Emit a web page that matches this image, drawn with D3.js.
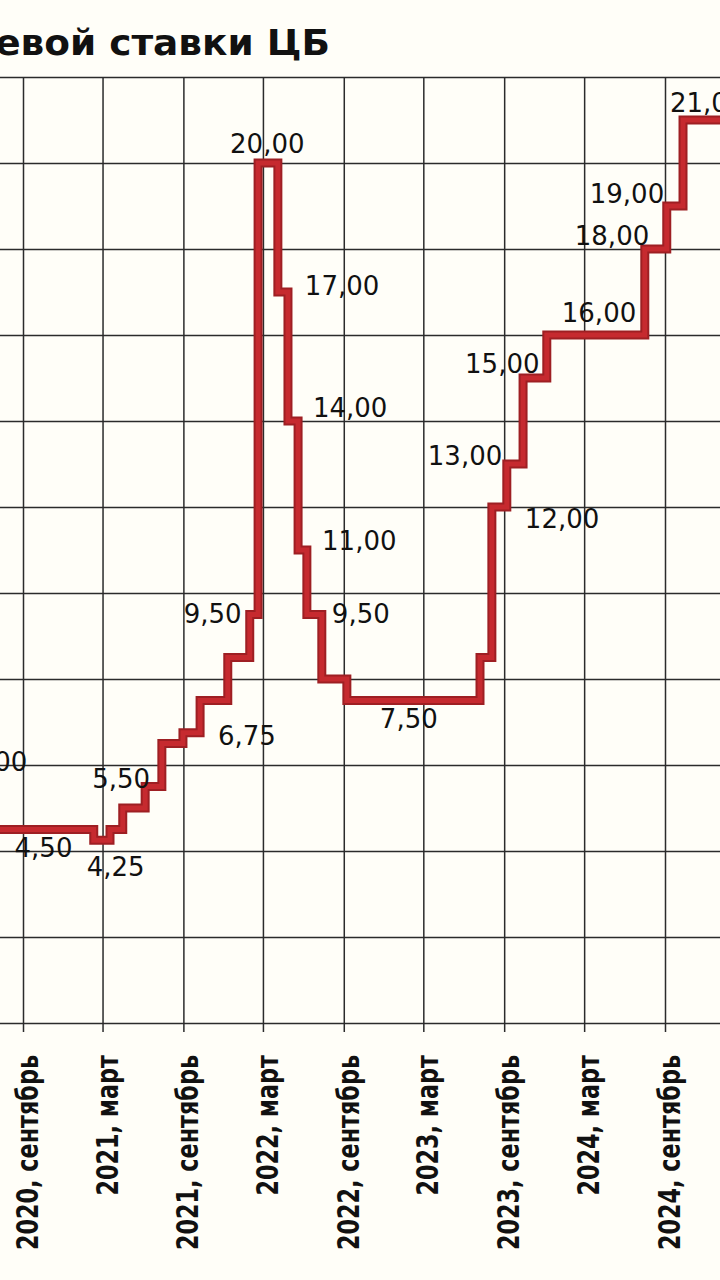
<!DOCTYPE html>
<html>
<head>
<meta charset="utf-8">
<script src="https://cdn.jsdelivr.net/npm/d3@7"></script>
<style>
html, body { margin: 0; padding: 0; background: #fffef8; }
svg { display: block; }
</style>
</head>
<body>
<div id="chart"></div>
<script>
// key rate steps: start date of each level + level
const rateDates = ["2020-02-10", "2020-06-01", "2021-02-09", "2021-03-18", "2021-04-16",
    "2021-06-06", "2021-07-14", "2021-08-31", "2021-10-09", "2021-12-11", "2022-01-30",
    "2022-02-18", "2022-04-04", "2022-04-27", "2022-05-20", "2022-06-09", "2022-07-13",
    "2022-09-08", "2023-07-08", "2023-08-04", "2023-09-07", "2023-10-14", "2023-12-07",
    "2024-07-17", "2024-09-05", "2024-10-12"];
const rateValues = [6.00, 4.50, 4.25, 4.50, 5.00, 5.50, 6.50, 6.75, 7.50, 8.50, 9.50,
    20.00, 17.00, 14.00, 11.00, 9.50, 8.00, 7.50, 8.50, 12.00, 13.00, 15.00, 16.00,
    18.00, 19.00, 21.00];
const lastDate = "2025-01-20";

// axis ticks
const xTickDates = ["2020-09-01", "2021-03-01", "2021-09-01", "2022-03-01", "2022-09-01",
    "2023-03-01", "2023-09-01", "2024-03-01", "2024-09-01"];
const xTickLabels = ["2020, сентябрь", "2021, март", "2021, сентябрь", "2022, март",
    "2022, сентябрь", "2023, март", "2023, сентябрь", "2024, март", "2024, сентябрь"];
const yTicks = [0, 2, 4, 6, 8, 10, 12, 14, 16, 18, 20, 22];

const titleText = "Динамика ключевой ставки ЦБ";

// where each value label sits relative to the start of its step (null = no label)
const labelOffsets = [[36, 6], [32, 27], [-7, 36], null, null, [-53, 1], null, [35, 12],
    null, null, [-66, 8], [-28, -10], [27, 3], [25, -4], [24, 0], [25, 8], null,
    [33, 27], null, [33, 21], [-79, 1], [-58, -5], [15, -13], [-70, -4], [-77, -3],
    [-13, -8]];

const width = 720, height = 1280;
const plot = { top: 77, bottom: 1023, left: 0, right: 720 };

const parse = d3.utcParse("%Y-%m-%d");
const steps = rateDates.map((d, i) => ({ date: parse(d), value: rateValues[i], i }));
const linePts = steps.concat([{ date: parse(lastDate), value: rateValues[rateValues.length - 1] }]);

const svg = d3.select("#chart")
    .append("svg")
    .attr("width", width)
    .attr("height", height)
    .style("background", "#fffef8");

const x = d3.scaleUtc()
    .domain([parse("2020-09-01"), parse("2024-09-01")])
    .range([23, 665]);

const y = d3.scaleLinear()
    .domain([0, 22])
    .range([plot.bottom, plot.top]);

// horizontal grid
const gy = svg.append("g")
    .call(d3.axisRight(y).tickValues(yTicks).tickSize(plot.right - plot.left).tickFormat(""));
gy.select(".domain").remove();
gy.selectAll(".tick line").attr("stroke", "#2b2b2b").attr("stroke-width", 1.5);

// vertical grid, running a little below the axis
const gx = svg.append("g")
    .attr("transform", `translate(0, ${plot.top})`)
    .call(d3.axisBottom(x).tickValues(xTickDates.map(parse))
        .tickSize(plot.bottom - plot.top + 9).tickFormat(""));
gx.select(".domain").remove();
gx.selectAll(".tick line").attr("stroke", "#2b2b2b").attr("stroke-width", 1.5);

// x labels, rotated
svg.selectAll("text.xlab")
    .data(xTickDates)
    .enter()
    .append("text")
    .attr("class", "xlab")
    .attr("transform", d => `translate(${x(parse(d)) + 15}, 1055) rotate(-90) scale(0.72, 1)`)
    .attr("text-anchor", "end")
    .attr("font-family", "DejaVu Sans, sans-serif")
    .attr("font-weight", "bold")
    .attr("font-size", "31px")
    .attr("fill", "#111")
    .text((d, i) => xTickLabels[i]);

// step line
const line = d3.line()
    .x(d => x(d.date))
    .y(d => y(d.value))
    .curve(d3.curveStepAfter);

svg.append("path")
    .datum(linePts)
    .attr("fill", "none")
    .attr("stroke", "#9e1f23")
    .attr("stroke-width", 9)
    .attr("stroke-linejoin", "miter")
    .attr("d", line);

svg.append("path")
    .datum(linePts)
    .attr("fill", "none")
    .attr("stroke", "#c62a2f")
    .attr("stroke-width", 5)
    .attr("stroke-linejoin", "miter")
    .attr("d", line);

// value labels
const ru = d3.formatLocale({ decimal: ",", thousands: " ", grouping: [3], currency: ["", " ₽"] });
const fmt = ru.format(".2f");

svg.selectAll("text.val")
    .data(steps.filter(d => labelOffsets[d.i]))
    .enter()
    .append("text")
    .attr("class", "val")
    .attr("x", d => x(d.date) + labelOffsets[d.i][0])
    .attr("y", d => y(d.value) + labelOffsets[d.i][1])
    .attr("font-family", "DejaVu Sans, sans-serif")
    .attr("font-size", "26px")
    .attr("fill", "#111")
    .text(d => fmt(d.value));

// title, cut at the left like the source
svg.append("text")
    .attr("transform", "translate(330, 55) scale(1.07, 1)")
    .attr("text-anchor", "end")
    .attr("font-family", "DejaVu Sans, sans-serif")
    .attr("font-weight", "bold")
    .attr("font-size", "35px")
    .attr("fill", "#111")
    .text(titleText);
</script>
</body>
</html>
